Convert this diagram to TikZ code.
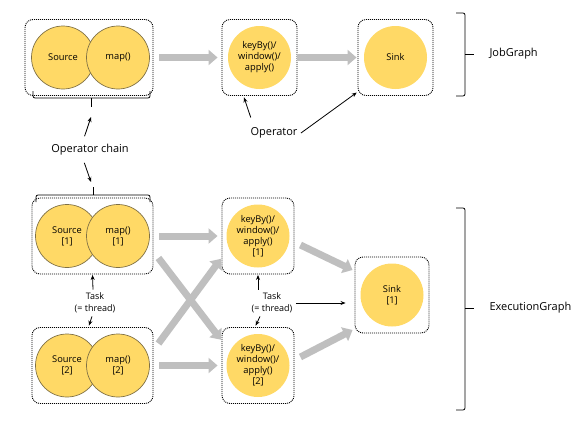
\documentclass[tikz,border=0pt]{standalone}
\usepackage{fontspec}
\setmainfont{Open Sans}
\usetikzlibrary{positioning, arrows.meta}
\definecolor{opyellow}{HTML}{FFD966}
\definecolor{opedge}{HTML}{7F7045}
\definecolor{flowgray}{HTML}{BFBFBF}

\begin{document}
\begin{tikzpicture}[
        x=1pt, y=-1pt,
        slot/.style={
                draw=black,
                dash pattern=on 1pt off 1pt,
                line width=0.9pt,
                rounded corners=8pt,
                minimum height=76pt
            },
        operator/.style={
                circle,
                fill=opyellow,
                minimum size=63pt,
                inner sep=0pt,
                align=center,
                font=\fontsize{9.3}{11}\selectfont
            },
        chained/.style={operator, draw=opedge, line width=0.7pt},
        caption/.style = {font=\fontsize{11}{13}\selectfont},
        note/.style = {font=\fontsize{9}{11.5}\selectfont, align=center},
        flow/.style={
                draw=flowgray,
                line width=7pt,
                -{Triangle[length=9pt,width=15pt]}
            },
        pointer/.style={->, line width=0.8pt},
        bracket/.style={line width=0.8pt, rounded corners=2pt},
        >={Stealth[length=5pt,width=4pt]}
    ]
    \useasboundingbox (0,0) rectangle (581,426);

    % JobGraph
    \node[slot,minimum width=128pt] (chainA) at (89,57.5) {};
    \node[chained] (sourceA) at (63,57.5) {Source};
    \node[chained] (mapA) at (118,57.5) {map()};
    \node[slot,minimum width=75pt] (kbA) at (259.5,57.5) {};
    \node[operator] (kbopA) at (kbA) {keyBy()/\\window()/\\apply()};
    \node[slot,minimum width=75pt] (sinkA) at (395.5,57.5) {};
    \node[operator] (sinkopA) at (sinkA) {Sink};

    \draw[flow, shorten <=6pt, shorten >=4pt] (chainA.east) -- (kbA.west);
    \draw[flow, shorten >=1pt] (kbA.east) -- (sinkA.west);

    % ExecutionGraph
    \node[slot,minimum width=121pt] (chainB1) at (92.5,236) {};
    \node[chained] (sourceB1) at (67,236) {Source\\{[1]}};
    \node[chained] (mapB1) at (118,236) {map()\\{[1]}};
    \node[slot,minimum width=121pt] (chainB2) at (92.5,365.5) {};
    \node[chained] (sourceB2) at (67,365.5) {Source\\{[2]}};
    \node[chained] (mapB2) at (118,365.5) {map()\\{[2]}};
    \node[slot,minimum width=72pt] (kbB1) at (258,236) {};
    \node[operator] (kbopB1) at (kbB1) {keyBy()/\\window()/\\apply()\\{[1]}};
    \node[slot,minimum width=72pt] (kbB2) at (258,365.5) {};
    \node[operator] (kbopB2) at (kbB2) {keyBy()/\\window()/\\apply()\\{[2]}};
    \node[slot,minimum width=74pt] (sinkB) at (392,295) {};
    \node[operator] (sinkopB) at (sinkB) {Sink\\{[1]}};

    \draw[flow, shorten <=6pt, shorten >=4pt] (chainB1.east) -- (kbB1.west);
    \draw[flow, shorten <=6pt, shorten >=4pt] (chainB2.east) -- (kbB2.west);
    \draw[flow, shorten >=1pt] ([shift={(5,22)}]chainB1.east) -- ([shift={(0,-25)}]kbB2.west);
    \draw[flow, shorten >=1pt] ([shift={(5,-22)}]chainB2.east) -- ([shift={(0,22)}]kbB1.west);
    \draw[flow] ([shift={(6,9)}]kbB1.east) -- ([shift={(-2,-25)}]sinkB.west);
    \draw[flow] ([shift={(6,-8.5)}]kbB2.east) -- ([shift={(-2,35)}]sinkB.west);

    % brackets
    \draw[bracket] (33,91) -- (33,98) -- (150,98) -- (150,91);
    \draw[bracket] (91,98) -- (91,107);
    \coordinate (braceA) at (91,117);
    \draw[bracket] (36,202) -- (36,195) -- (150,195) -- (150,202);
    \draw[bracket] (93,195) -- (93,187);
    \coordinate (braceB) at (91,182);
    \draw[bracket] (456,13) -- (465,13) -- (465,96) -- (456,96);
    \draw[bracket] (465,54) -- (474,54);
    \draw[bracket] (456,208) -- (465,208) -- (465,410) -- (456,410);
    \draw[bracket] (465,308) -- (474,308);

    % labels
    \node[caption] (chainlbl) at (90,150) {Operator chain};
    \node[caption] (oplbl) at (274,133) {Operator};
    \node[caption, anchor=west] (joblbl) at (486,54) {JobGraph};
    \node[caption, anchor=west] (execlbl) at (486,308) {ExecutionGraph};
    \node[note] (taskL) at (95,303) {Task\\(= thread)};
    \node[note] (taskR) at (272,303) {Task\\(= thread)};

    \draw[pointer, shorten <=5pt] ([xshift=-7pt]chainlbl.north) -- (braceA);
    \draw[pointer, shorten <=4pt] ([xshift=-7pt]chainlbl.south) -- (braceB);
    \draw[pointer, shorten <=7pt, shorten >=1.5pt] ([xshift=-21pt]oplbl.north) -- ([xshift=-16pt]kbA.south);
    \draw[pointer, shorten >=1pt] (oplbl.east) -- ([yshift=4pt]sinkA.south west);
    \draw[pointer, shorten >=0.5pt] ([xshift=-2pt]taskL.north) -- (chainB1.south);
    \draw[pointer, shorten >=1.5pt] ([xshift=-3pt]taskL.south) -- ([xshift=-4pt]chainB2.north);
    \draw[pointer, shorten >=0.5pt] (taskR.north -| kbB1.south) -- (kbB1.south);
    \draw[pointer, shorten >=1.5pt] ([xshift=-12pt]taskR.south) -- ([xshift=-3pt]kbB2.north);
    \draw[pointer, shorten >=9pt] (taskR.east) -- (taskR.east -| sinkB.west);
\end{tikzpicture}
\end{document}
